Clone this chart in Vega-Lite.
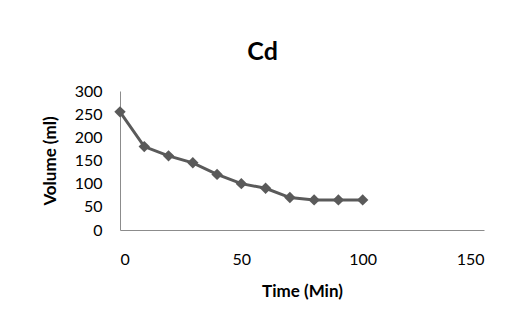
{
  "$schema": "https://vega.github.io/schema/vega-lite/v6.json",
  "autosize": "none",
  "padding": {"left": 120, "top": 91, "right": 32, "bottom": 95},
  "width": 364,
  "height": 139,
  "background": "white",
  "title": {
    "text": "Cd",
    "font": "Lato",
    "fontSize": 25,
    "fontWeight": "bold",
    "color": "#000000",
    "anchor": "middle",
    "frame": "bounds",
    "offset": 18
  },
  "data": {
    "values": [
      {"time": 0, "volume": 255},
      {"time": 10, "volume": 180},
      {"time": 20, "volume": 160},
      {"time": 30, "volume": 145},
      {"time": 40, "volume": 120},
      {"time": 50, "volume": 100},
      {"time": 60, "volume": 90},
      {"time": 70, "volume": 70},
      {"time": 80, "volume": 65},
      {"time": 90, "volume": 65},
      {"time": 100, "volume": 65}
    ]
  },
  "mark": {
    "type": "line",
    "color": "#5a5a5a",
    "strokeWidth": 3,
    "point": {"shape": "diamond", "size": 130, "filled": true, "color": "#5a5a5a", "opacity": 1}
  },
  "encoding": {
    "x": {
      "field": "time",
      "type": "quantitative",
      "title": "Time (Min)",
      "scale": {"domain": [0, 150], "nice": false},
      "axis": {"values": [0, 50, 100, 150]}
    },
    "y": {
      "field": "volume",
      "type": "quantitative",
      "title": "Volume (ml)",
      "scale": {"domain": [0, 300], "nice": false},
      "axis": {"values": [0, 50, 100, 150, 200, 250, 300]}
    }
  },
  "config": {
    "view": {"stroke": null},
    "axis": {
      "grid": false,
      "ticks": false,
      "domainColor": "#8c8c8c",
      "domainWidth": 1,
      "labelFont": "Lato",
      "labelFontSize": 16,
      "labelColor": "#000000",
      "titleFont": "Lato",
      "titleFontSize": 17,
      "titleFontWeight": "bold",
      "titleColor": "#000000"
    },
    "axisX": {"labelPadding": 21, "titlePadding": 16},
    "axisY": {"labelPadding": 18, "titlePadding": 15}
  }
}
